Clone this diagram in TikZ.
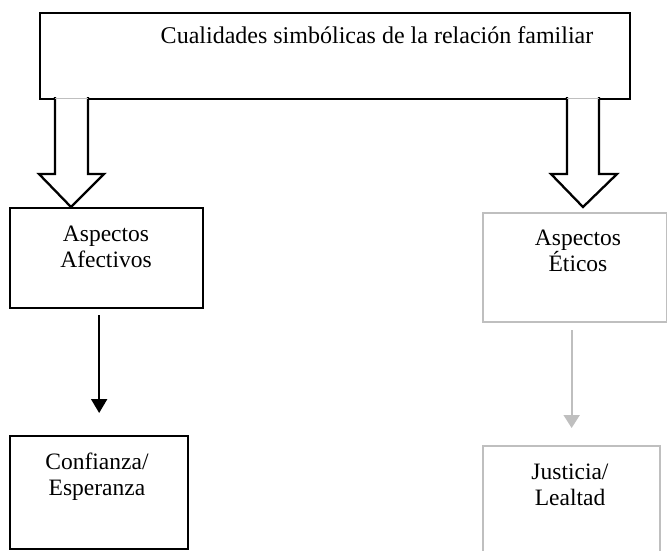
\documentclass[tikz,border=0pt]{standalone}
\usepackage{fontspec}
\setmainfont{Liberation Serif}
\usetikzlibrary{arrows.meta}

\begin{document}
\begin{tikzpicture}[x=1pt, y=-1pt]

  % Define Colors
  \definecolor{lightgrey}{RGB}{191,191,191}

  % Node styles
  \tikzstyle{bbox}=[rectangle, draw=black, line width=2.3pt, inner sep=0pt, anchor=north west]
  \tikzstyle{gbox}=[rectangle, draw=lightgrey, line width=2.3pt, inner sep=0pt, anchor=north west]
  \tikzstyle{txt}=[align=center, inner sep=0pt, anchor=base, font=\fontsize{23.5}{26}\selectfont]

  \tikzstyle{big_arrow}=[fill=white, draw=black, line width=2.3pt]
  \tikzstyle{B_link}=[line width=2pt, black, -{Triangle[width=16pt,length=14pt]}]
  \tikzstyle{G_link}=[line width=2pt, lightgrey, -{Triangle[width=16pt,length=13pt]}]

  \useasboundingbox (0,0) rectangle (667,550);
  \clip (0,0) rectangle (667,550);

  % Boxes
  \node[bbox, minimum width=590pt, minimum height=86pt] (quals) at (39,12) {};
  \node[bbox, minimum width=193pt, minimum height=100pt] (afect) at (9,207) {};
  \node[bbox, minimum width=178pt, minimum height=113pt] (conf) at (9,435) {};
  \node[gbox, minimum width=184pt, minimum height=109pt] (etic) at (482,212) {};
  \node[gbox, minimum width=177pt, minimum height=130pt] (just) at (482,445) {};

  % Texts (base = last line)
  \node[txt, font=\fontsize{24}{26}\selectfont] (quals_txt) at (377,43) {Cualidades simbólicas de la relación familiar};
  \node[txt] (afect_txt) at (106,267) {Aspectos\\Afectivos};
  \node[txt] (conf_txt) at (97,495) {Confianza/\\Esperanza};
  \node[txt] (etic_txt) at (578,271) {Aspectos\\Éticos};
  \node[txt] (just_txt) at (570,505) {Justicia/\\Lealtad};

  % Big arrows
  \filldraw[big_arrow] (55,97) -- (55,174) -- (39,174) -- (71,207) -- (104,174) -- (88,174) -- (88,97);
  \filldraw[big_arrow] (567,97) -- (567,174) -- (551,174) -- (583,207) -- (617,174) -- (599,174) -- (599,97);
  \draw[lightgrey, thin] (55,98) -- (88,98);
  \draw[lightgrey, thin] (567,98) -- (599,98);

  % Links
  \draw[B_link, shorten <=6pt, shorten >=22pt] (afect.south -| conf.north) -- (conf.north);
  \draw[G_link, shorten <=7pt, shorten >=17pt] (etic.south -| just.north) -- (just.north);

\end{tikzpicture}
\end{document}
